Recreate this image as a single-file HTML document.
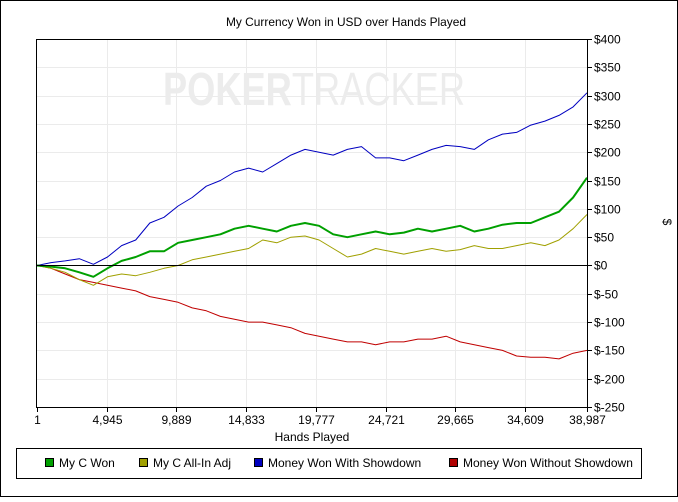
<!DOCTYPE html>
<html><head><meta charset="utf-8"><style>
body{margin:0;background:#fff;font-family:"Liberation Sans",sans-serif}
svg text{font-family:"Liberation Sans",sans-serif;font-size:12px;fill:#000}
</style></head><body>
<svg id="chart" width="678" height="497" xmlns="http://www.w3.org/2000/svg">
<rect x="0.5" y="0.5" width="677" height="496" fill="#fff" stroke="#000"/>
<text x="346" y="26" text-anchor="middle" textLength="240" lengthAdjust="spacingAndGlyphs">My Currency Won in USD over Hands Played</text>
<g id="grid"></g>
<text x="163" y="105" textLength="302" lengthAdjust="spacingAndGlyphs" style="font-size:46px;font-weight:bold;fill:#ececec">POKER<tspan style="font-weight:normal">TRACKER</tspan></text>
<g id="series"></g>
<rect x="36.5" y="39.5" width="551" height="368" fill="none" stroke="#000"/>
<g id="axes"></g>
<text x="312" y="441" text-anchor="middle">Hands Played</text>
<text x="663" y="222" text-anchor="middle" transform="rotate(90 663 222)">$</text>
<g>
<rect x="16.5" y="448.5" width="625" height="30" fill="#fff" stroke="#000"/>
<g><rect x="45.5" y="458.5" width="8" height="8" fill="#00a000" stroke="#000"/><text x="59" y="467">My C Won</text></g>
<g><rect x="139.5" y="458.5" width="8" height="8" fill="#a0a000" stroke="#000"/><text x="153" y="467">My C All-In Adj</text></g>
<g><rect x="254.5" y="458.5" width="8" height="8" fill="#0000c0" stroke="#000"/><text x="268" y="467">Money Won With Showdown</text></g>
<g><rect x="449.5" y="458.5" width="8" height="8" fill="#b00000" stroke="#000"/><text x="463" y="467">Money Won Without Showdown</text></g>
</g>
</svg>
<script>
const hands=[0,1000,2000,3000,4000,5000,6000,7000,8000,9000,10000,11000,12000,13000,14000,15000,16000,17000,18000,19000,20000,21000,22000,23000,24000,25000,26000,27000,28000,29000,30000,31000,32000,33000,34000,35000,36000,37000,38000,38987];
const withShowdown=[0,5,8,12,2,15,35,45,75,85,105,120,140,150,165,172,165,180,195,205,200,195,205,210,190,190,185,195,205,212,210,205,222,232,235,248,255,265,280,305];
const myCWon=[0,-2,-5,-12,-20,-5,8,15,25,25,40,45,50,55,65,70,65,60,70,75,70,55,50,55,60,55,58,65,60,65,70,60,65,72,75,75,85,95,120,155];
const allInAdj=[0,-5,-12,-25,-35,-20,-15,-18,-12,-5,0,10,15,20,25,30,45,40,50,52,45,30,15,20,30,25,20,25,30,25,28,35,30,30,35,40,35,45,65,90];
const withoutShowdown=[0,-5,-15,-25,-30,-35,-40,-45,-55,-60,-65,-75,-80,-90,-95,-100,-100,-105,-110,-120,-125,-130,-135,-135,-140,-135,-135,-130,-130,-125,-135,-140,-145,-150,-160,-162,-162,-165,-155,-150];
const xTicks=[1,4945,9889,14833,19777,24721,29665,34609,38987];
const xTickLabels=["1","4,945","9,889","14,833","19,777","24,721","29,665","34,609","38,987"];
const yTicks=[400,350,300,250,200,150,100,50,0,-50,-100,-150,-200,-250];
const yTickLabels=["$400","$350","$300","$250","$200","$150","$100","$50","$0","$-50","$-100","$-150","$-200","$-250"];

const NS="http://www.w3.org/2000/svg";
const X0=37,X1=587,Y0=407,Y1=39,XMIN=1,XMAX=38987,YMIN=-250,YMAX=400;
const sx=v=>X0+(v-XMIN)/(XMAX-XMIN)*(X1-X0);
const sy=v=>Y0-(v-YMIN)/(YMAX-YMIN)*(Y0-Y1);
function mk(tag,attrs,parent){const e=document.createElementNS(NS,tag);for(const k in attrs)e.setAttribute(k,attrs[k]);parent.appendChild(e);return e;}
const grid=document.getElementById('grid'),axes=document.getElementById('axes'),series=document.getElementById('series');
xTicks.forEach((t,i)=>{const x=Math.round(sx(t))+0.5;
 if(i>0&&i<xTicks.length-1){const g=mk('line',{x1:x,x2:x,y1:Y1,y2:Y0,stroke:'#ebebeb'},grid);
 
 }
 const tk=mk('line',{x1:x,x2:x,y1:Y0,y2:Y0+5,stroke:'#000'},axes);
 
 
 const tx=mk('text',{x:x,y:Y0+17,'text-anchor':'middle'},axes);tx.textContent=xTickLabels[i];
 
 });
yTicks.forEach((t,i)=>{const y=Math.round(sy(t))+0.5;
 if(t!==0&&t!==YMIN&&t!==YMAX){const g=mk('line',{x1:X0,x2:X1,y1:y,y2:y,stroke:'#ebebeb'},grid);
 
 }
 const tk=mk('line',{x1:X1,x2:X1+5,y1:y,y2:y,stroke:'#000'},axes);
 
 
 const tx=mk('text',{x:X1+7,y:y+4},axes);tx.textContent=yTickLabels[i];
 
 });
const zl=mk('line',{x1:X0,x2:X1,y1:Math.round(sy(0))+0.5,y2:Math.round(sy(0))+0.5,stroke:'#000'},axes);


function line(vals,color,w,name){const d=vals.map((v,i)=>(i?'L':'M')+sx(hands[i]).toFixed(1)+' '+sy(v).toFixed(1)).join(' ');
 const p=mk('path',{d:d,fill:'none',stroke:color,'stroke-width':w,'stroke-linejoin':'round'},series);
 
 }
line(withoutShowdown,'#c00000',1,'line-without-showdown');
line(withShowdown,'#0000c0',1,'line-with-showdown');
line(allInAdj,'#a0a000',1,'line-all-in-adj');
line(myCWon,'#00a000',2,'line-my-c-won');
</script>
</body></html>
